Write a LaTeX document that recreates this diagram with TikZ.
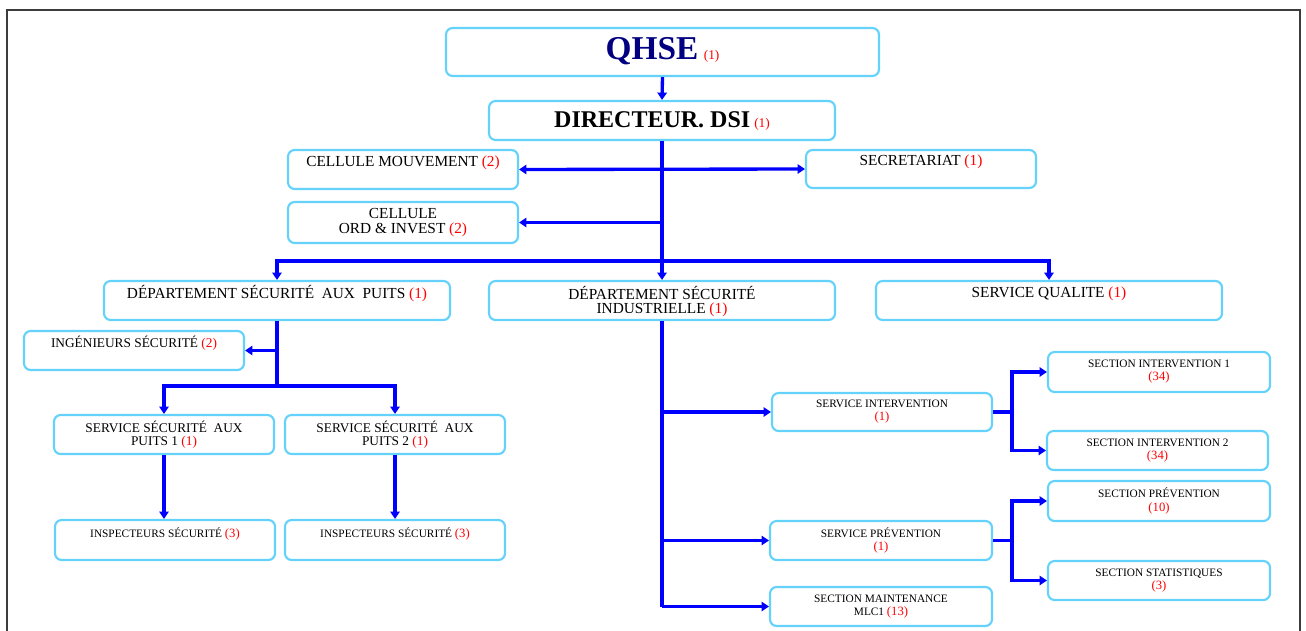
\documentclass[tikz,border=0pt]{standalone}
\usepackage{fontspec}
\setmainfont{Liberation Serif}
\usetikzlibrary{arrows.meta,calc,fit}

\definecolor{linkblue}{RGB}{0,0,255}
\definecolor{boxcyan}{RGB}{100,210,250}
\definecolor{titlenavy}{RGB}{0,0,128}
\definecolor{numred}{RGB}{255,0,0}
\definecolor{framegray}{RGB}{60,60,60}

% staff count in red
\newcommand{\nb}[1]{\textcolor{numred}{(#1)}}
% staff count in red, on its own line in the small boxes
\newcommand{\nbl}[1]{{\fontsize{9.5}{9.8}\selectfont\textcolor{numred}{(#1)}}}
% rounded unit box from two corners: name, x1, y1, x2, y2 (pixel grid)
\newcommand{\unitbox}[5]{%
  \coordinate (#1-a) at (#2,#3);
  \coordinate (#1-b) at (#4,#5);
  \node[unit, fit=(#1-a)(#1-b)] (#1) {};}

\tikzset{
  unit/.style={draw=boxcyan, line width=1.6pt, rounded corners=5pt, fill=white, inner sep=0pt},
  link/.style={draw=linkblue, line width=2.5pt},
  arr/.style={link, -{Triangle[length=5.5pt,width=7pt]}},
  biarr/.style={link, {Triangle[length=5.5pt,width=7pt]}-{Triangle[length=5.5pt,width=7pt]}},
  txt/.style={inner sep=0pt, align=center, text=black},
  tq/.style={txt, text=titlenavy, font=\fontsize{25}{28}\selectfont\bfseries},
  tdir/.style={txt, font=\fontsize{18}{20}\selectfont\bfseries},
  tbig/.style={txt, font=\fontsize{11.5}{11}\selectfont},
  tmid/.style={txt, font=\fontsize{10}{9.8}\selectfont},
  tsmall/.style={txt, font=\fontsize{8.5}{9.8}\selectfont},
}

\begin{document}
\begin{tikzpicture}[x=0.75pt,y=-0.75pt]
\useasboundingbox (0,0) rectangle (1306,631);

% page frame
\draw[framegray, line width=1.2pt] (7,631) -- (7,10) -- (1300,10) -- (1300,631);

% boxes
\unitbox{qhse}{446}{28}{879}{76}
\unitbox{dir}{489}{101}{835}{140}
\unitbox{cm}{288}{150}{518}{189}
\unitbox{sec}{806}{150}{1036}{188}
\unitbox{co}{288}{202}{518}{243}
\unitbox{dp}{104}{281}{450}{320}
\unitbox{dsi}{489}{281}{835}{320}
\unitbox{sq}{876}{281}{1222}{320}
\unitbox{ing}{24}{331}{244}{370}
\unitbox{sp1}{54}{415}{274}{454}
\unitbox{sp2}{285}{415}{505}{454}
\unitbox{in1}{55}{520}{275}{560}
\unitbox{in2}{285}{520}{505}{560}
\unitbox{si}{772}{393}{992}{431}
\unitbox{s1}{1048}{352}{1270}{392}
\unitbox{s2}{1047}{431}{1268}{470}
\unitbox{s3}{1048}{481}{1270}{521}
\unitbox{s4}{1048}{561}{1270}{600}
\unitbox{spv}{770}{521}{992}{560}
\unitbox{sm}{770}{587}{992}{626}

% texts
\node[tq] (qhse-t) at ($(qhse.north)+(0,24)$) {QHSE\,{\normalfont\fontsize{10}{10}\selectfont\nb{1}}};
\node[tdir] (dir-t) at (dir.center) {DIRECTEUR. DSI\,{\normalfont\fontsize{10}{10}\selectfont\nb{1}}};
\node[tbig] (cm-t) at ($(cm.north)+(0,14)$) {CELLULE MOUVEMENT \nb{2}};
\node[tbig] (sec-t) at ($(sec.north)+(0,13)$) {SECRETARIAT \nb{1}};
\node[tbig] (co-t) at (co.center) {CELLULE\\ORD \& INVEST \nb{2}};
\node[tbig] (dp-t) at ($(dp.north)+(0,14)$) {DÉPARTEMENT SÉCURITÉ~ AUX~ PUITS \nb{1}};
\node[tbig] (dsi-t) at ($(dsi.center)+(0,1)$) {DÉPARTEMENT SÉCURITÉ\\INDUSTRIELLE \nb{1}};
\node[tbig] (sq-t) at ($(sq.north)+(0,14)$) {SERVICE QUALITE \nb{1}};
\node[tmid] (ing-t) at ($(ing.north)+(0,13)$) {INGÉNIEURS SÉCURITÉ \nb{2}};
\node[tmid] (sp1-t) at (sp1.center) {SERVICE SÉCURITÉ~ AUX\\PUITS 1 \nb{1}};
\node[tmid] (sp2-t) at (sp2.center) {SERVICE SÉCURITÉ~ AUX\\PUITS 2 \nb{1}};
\node[tsmall] (in1-t) at ($(in1.north)+(0,15)$) {INSPECTEURS SÉCURITÉ \nbl{3}};
\node[tsmall] (in2-t) at ($(in2.north)+(0,15)$) {INSPECTEURS SÉCURITÉ \nbl{3}};
\node[tsmall] (si-t) at (si.center) {SERVICE INTERVENTION\\\nbl{1}};
\node[tsmall] (s1-t) at (s1.center) {SECTION INTERVENTION 1\\\nbl{34}};
\node[tsmall] (s2-t) at (s2.center) {SECTION INTERVENTION 2\\\nbl{34}};
\node[tsmall] (s3-t) at (s3.center) {SECTION PRÉVENTION\\\nbl{10}};
\node[tsmall] (s4-t) at (s4.center) {SECTION STATISTIQUES\\\nbl{3}};
\node[tsmall] (spv-t) at (spv.center) {SERVICE PRÉVENTION\\\nbl{1}};
\node[tsmall] (sm-t) at (sm.center) {SECTION MAINTENANCE\\MLC1 \nbl{13}};

% top of the chart
\draw[arr] (qhse.south) -- (dir.north);
\draw[arr] (dir.south) -- (dsi.north);
\draw[biarr] (cm.east) -- (sec.west);
\draw[arr] (dir.south |- co.east) -- (co.east);
\coordinate (h1) at (662,261);
\draw[arr] (h1) -| (dp.north);
\draw[arr] (h1) -| (sq.north);

% well safety department
\coordinate (h2) at (277,386);
\draw[link] (dp.south) -- (h2);
\draw[arr] (dp.south |- ing.east) -- (ing.east);
\draw[arr] (h2) -| (sp1.north);
\draw[arr] (h2) -| (sp2.north);
\draw[arr] (sp1.south) -- (sp1.south |- in1.north);
\draw[arr] (sp2.south) -- (sp2.south |- in2.north);

% industrial safety department
\draw[link] (dsi.south) -- (dsi.south |- sm.west);
\draw[arr] (dsi.south |- si.west) -- (si.west);
\draw[arr] (dsi.south |- spv.west) -- (spv.west);
\draw[arr] (dsi.south |- sm.west) -- (sm.west);

\coordinate (fk1) at ($(si.east)+(19,0)$);
\draw[arr] (si.east) -- (fk1) |- (s1.west);
\draw[arr] (fk1) |- (s2.west);
\coordinate (fk2) at ($(spv.east)+(19,0)$);
\draw[arr] (spv.east) -- (fk2) |- (s3.west);
\draw[arr] (fk2) |- (s4.west);
\end{tikzpicture}
\end{document}
